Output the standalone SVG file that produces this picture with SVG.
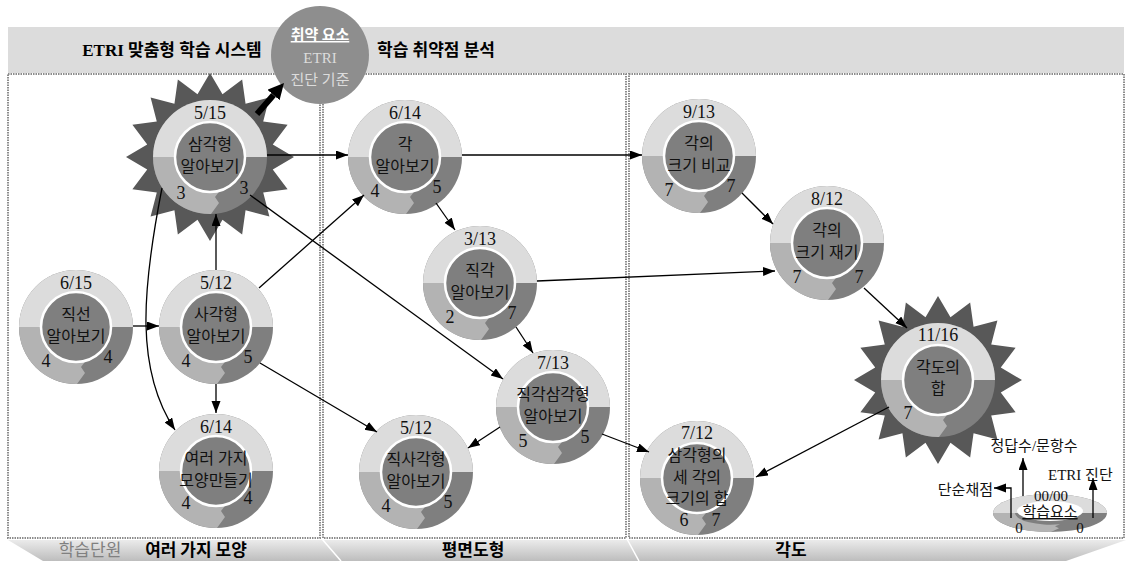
<svg xmlns="http://www.w3.org/2000/svg" xmlns:xlink="http://www.w3.org/1999/xlink" width="1128" height="561" viewBox="0 0 1128 561">
<style>
.num{font-family:"Liberation Serif","Noto Sans CJK KR",serif;font-size:18px;text-anchor:middle;fill:#111}
.kr{font-family:"Liberation Serif","Noto Sans CJK KR",sans-serif;font-size:16px;text-anchor:middle;fill:#111}
.inner{fill:#7f7f7f;stroke:#fff;stroke-width:2.5}
.star{fill:#585858}
.panel{fill:none;stroke:#8c8c8c;stroke-width:2;stroke-dasharray:1.5 1}
.hdr{font-family:"Liberation Serif","Noto Sans CJK KR",sans-serif;font-size:17px;font-weight:bold;fill:#000;text-anchor:middle}
.band{font-family:"Noto Sans CJK KR",sans-serif;font-size:17px;font-weight:bold;fill:#000;text-anchor:middle}
.leg{font-family:"Liberation Serif","Noto Sans CJK KR",sans-serif;font-size:15px;fill:#111}
.conn line,.conn path{stroke:#000;stroke-width:1.3;fill:none}
</style>
<defs>
<linearGradient id="bandg" x1="0" y1="0" x2="0" y2="1">
<stop offset="0" stop-color="#ebebeb"/>
<stop offset="1" stop-color="#bdbdbd"/>
</linearGradient>
<marker id="ah" markerUnits="userSpaceOnUse" markerWidth="13" markerHeight="10" refX="12" refY="4.5" orient="auto">
<path d="M0,0 L12,4.5 L0,9 z" fill="#000"/>
</marker>
<marker id="ahBig" markerUnits="userSpaceOnUse" markerWidth="18" markerHeight="18" refX="0" refY="8" orient="auto">
<path d="M0,0 L16,8 L0,16 z" fill="#000"/>
</marker>
<g id="ring">
<circle r="57" fill="#7f7f7f"/>
<path d="M-57,0 A57,57 0 0 1 57,0 Z" fill="#dcdcdc"/>
<path d="M-57,0 L-35,0 A35,35 0 0 0 10,33.5 L5,40 L9,46 L1,57 A57,57 0 0 1 -57,0 Z" fill="#b3b3b3"/>
</g>
<polygon id="star" class="star" points="0,-84 12.49,-62.77 32.15,-77.61 35.56,-53.21 59.4,-59.4 53.21,-35.56 77.61,-32.15 62.77,-12.49 84,0 62.77,12.49 77.61,32.15 53.21,35.56 59.4,59.4 35.56,53.21 32.15,77.61 12.49,62.77 0,84 -12.49,62.77 -32.15,77.61 -35.56,53.21 -59.4,59.4 -53.21,35.56 -77.61,32.15 -62.77,12.49 -84,0 -62.77,-12.49 -77.61,-32.15 -53.21,-35.56 -59.4,-59.4 -35.56,-53.21 -32.15,-77.61 -12.49,-62.77"/>
</defs>

<rect width="1128" height="561" fill="#fff"/>

<g id="frame">
<rect x="8" y="27" width="1116" height="46" fill="#dcdcdc"/>
<rect class="panel" x="8" y="74" width="312" height="464"/>
<rect class="panel" x="323" y="74" width="303" height="464"/>
<rect class="panel" x="629" y="74" width="495" height="464"/>
<polygon points="8,540 1126,540 1066,561 43,561" fill="url(#bandg)"/>
<line x1="322" y1="539" x2="341" y2="561" stroke="#fff" stroke-width="1.5"/>
<line x1="627" y1="539" x2="639" y2="561" stroke="#fff" stroke-width="1.5"/>
<text class="hdr" x="172" y="56">ETRI 맞춤형 학습 시스템</text>
<text class="hdr" x="436" y="56">학습 취약점 분석</text>
<text x="90" y="556" style="font-family:'Noto Sans CJK KR',sans-serif;font-size:17px;fill:#808080;text-anchor:middle">학습단원</text>
<text class="band" x="196" y="556">여러 가지 모양</text>
<text class="band" x="473" y="556">평면도형</text>
<text class="band" x="791" y="556">각도</text>
</g>

<g id="weak">
<circle cx="320" cy="55" r="49" fill="#8e8e8e"/>
<text x="320" y="40" style="font-family:'Noto Sans CJK KR',sans-serif;font-size:15px;font-weight:bold;fill:#fff;text-anchor:middle;text-decoration:underline">취약 요소</text>
<text x="320" y="63" style="font-family:'Liberation Serif',serif;font-size:15px;fill:#dcdcdc;text-anchor:middle">ETRI</text>
<text x="320" y="85" style="font-family:'Liberation Serif','Noto Sans CJK KR',sans-serif;font-size:15px;fill:#dcdcdc;text-anchor:middle">진단 기준</text>
</g>

<g id="n515" transform="translate(210,157)">
<use href="#star"/>
<use href="#ring"/><circle class="inner" r="35"/>
<text class="num" y="-38">5/15</text>
<text class="kr" y="-7">삼각형</text><text class="kr" y="15">알아보기</text>
<text class="num" x="-29" y="42">3</text><text class="num" x="34" y="37">3</text>
</g>

<g id="n614a" transform="translate(405,157)">
<use href="#ring"/><circle class="inner" r="35"/>
<text class="num" y="-38">6/14</text>
<text class="kr" y="-7">각</text><text class="kr" y="15">알아보기</text>
<text class="num" x="-30" y="40">4</text><text class="num" x="32" y="36">5</text>
</g>

<g id="n913" transform="translate(699,156)">
<use href="#ring"/><circle class="inner" r="35"/>
<text class="num" y="-38">9/13</text>
<text class="kr" y="-7">각의</text><text class="kr" y="15">크기 비교</text>
<text class="num" x="-30" y="40">7</text><text class="num" x="32" y="36">7</text>
</g>

<g id="n812" transform="translate(827,243)">
<use href="#ring"/><circle class="inner" r="35"/>
<text class="num" y="-38">8/12</text>
<text class="kr" y="-7">각의</text><text class="kr" y="15">크기 재기</text>
<text class="num" x="-30" y="40">7</text><text class="num" x="32" y="40">7</text>
</g>

<g id="n313" transform="translate(480,283)">
<use href="#ring"/><circle class="inner" r="35"/>
<text class="num" y="-38">3/13</text>
<text class="kr" y="-7">직각</text><text class="kr" y="15">알아보기</text>
<text class="num" x="-30" y="40">2</text><text class="num" x="32" y="36">7</text>
</g>

<g id="n615" transform="translate(76,327)">
<use href="#ring"/><circle class="inner" r="35"/>
<text class="num" y="-38">6/15</text>
<text class="kr" y="-7">직선</text><text class="kr" y="15">알아보기</text>
<text class="num" x="-30" y="40">4</text><text class="num" x="32" y="36">4</text>
</g>

<g id="n512a" transform="translate(216,327)">
<use href="#ring"/><circle class="inner" r="35"/>
<text class="num" y="-38">5/12</text>
<text class="kr" y="-7">사각형</text><text class="kr" y="15">알아보기</text>
<text class="num" x="-30" y="40">4</text><text class="num" x="32" y="36">5</text>
</g>

<g id="n713" transform="translate(553,407)">
<use href="#ring"/><circle class="inner" r="35"/>
<text class="num" y="-38">7/13</text>
<text class="kr" y="-7">직각삼각형</text><text class="kr" y="15">알아보기</text>
<text class="num" x="-30" y="40">5</text><text class="num" x="32" y="36">5</text>
</g>

<g id="n1116" transform="translate(938,380)">
<use href="#star"/>
<use href="#ring"/><circle class="inner" r="35"/>
<text class="num" y="-39">11/16</text>
<text class="kr" y="-7">각도의</text><text class="kr" y="14">합</text>
<text class="num" x="-30" y="39">7</text>
</g>

<g id="n614b" transform="translate(216,471)">
<use href="#ring"/><circle class="inner" r="35"/>
<text class="num" y="-38">6/14</text>
<text class="kr" y="-7">여러 가지</text><text class="kr" y="15">모양만들기</text>
<text class="num" x="-30" y="38">4</text><text class="num" x="32" y="33">4</text>
</g>

<g id="n512b" transform="translate(416,472)">
<use href="#ring"/><circle class="inner" r="35"/>
<text class="num" y="-38">5/12</text>
<text class="kr" y="-7">직사각형</text><text class="kr" y="15">알아보기</text>
<text class="num" x="-30" y="40">4</text><text class="num" x="32" y="36">5</text>
</g>

<g id="n712" transform="translate(697,478)">
<use href="#ring"/><circle class="inner" r="35"/>
<text class="num" y="-39">7/12</text>
<text class="kr" y="-17">삼각형의</text><text class="kr" y="5">세 각의</text><text class="kr" y="26">크기의 합</text>
<text class="num" x="-13" y="48">6</text><text class="num" x="19" y="48">7</text>
</g>

<g id="legend">
<use href="#ring" transform="translate(1050,513) scale(1,0.333)"/>
<ellipse cx="1050" cy="511" rx="33" ry="10" fill="#fff"/>
<text class="leg" x="1051" y="501" text-anchor="middle">00/00</text>
<text class="leg" x="1050" y="517" text-anchor="middle" style="text-decoration:underline">학습요소</text>
<text class="leg" x="1019" y="533" text-anchor="middle">0</text>
<text class="leg" x="1080" y="533" text-anchor="middle">0</text>
<text class="leg" x="993" y="495" text-anchor="end">단순채점</text>
<text class="leg" x="1034" y="451" text-anchor="middle">정답수/문항수</text>
<text class="leg" x="1048" y="480">ETRI 진단</text>
</g>

<g id="connectors" class="conn">
<line x1="257" y1="114" x2="273.5" y2="95" style="stroke-width:6" marker-end="url(#ahBig)"/>
<line x1="267" y1="155" x2="348" y2="155" marker-end="url(#ah)"/>
<line x1="462" y1="155" x2="642" y2="155" marker-end="url(#ah)"/>
<line x1="133" y1="326" x2="159" y2="326" marker-end="url(#ah)"/>
<line x1="216" y1="270" x2="216" y2="214" marker-end="url(#ah)"/>
<line x1="216" y1="384" x2="216" y2="413" marker-end="url(#ah)"/>
<path d="M162,188 C142,290 135,370 175,430" marker-end="url(#ah)"/>
<line x1="259" y1="288" x2="364" y2="195" marker-end="url(#ah)"/>
<line x1="260" y1="363" x2="377" y2="432" marker-end="url(#ah)"/>
<line x1="250" y1="195" x2="503" y2="379" marker-end="url(#ah)"/>
<line x1="436" y1="203" x2="455" y2="230" marker-end="url(#ah)"/>
<line x1="537" y1="281" x2="775" y2="271" marker-end="url(#ah)"/>
<line x1="516" y1="327" x2="533" y2="353" marker-end="url(#ah)"/>
<line x1="500" y1="427" x2="468" y2="448" marker-end="url(#ah)"/>
<line x1="602" y1="434" x2="649" y2="452" marker-end="url(#ah)"/>
<line x1="742" y1="193" x2="773" y2="224" marker-end="url(#ah)"/>
<line x1="864" y1="288" x2="907" y2="328" marker-end="url(#ah)"/>
<line x1="889" y1="407" x2="756" y2="477" marker-end="url(#ah)"/>
<path d="M1011,518 V488 H994" marker-end="url(#ah)"/>
<line x1="1023" y1="496" x2="1023" y2="458" marker-end="url(#ah)"/>
<line x1="1093" y1="518" x2="1093" y2="478" marker-end="url(#ah)"/>
</g>
</svg>
